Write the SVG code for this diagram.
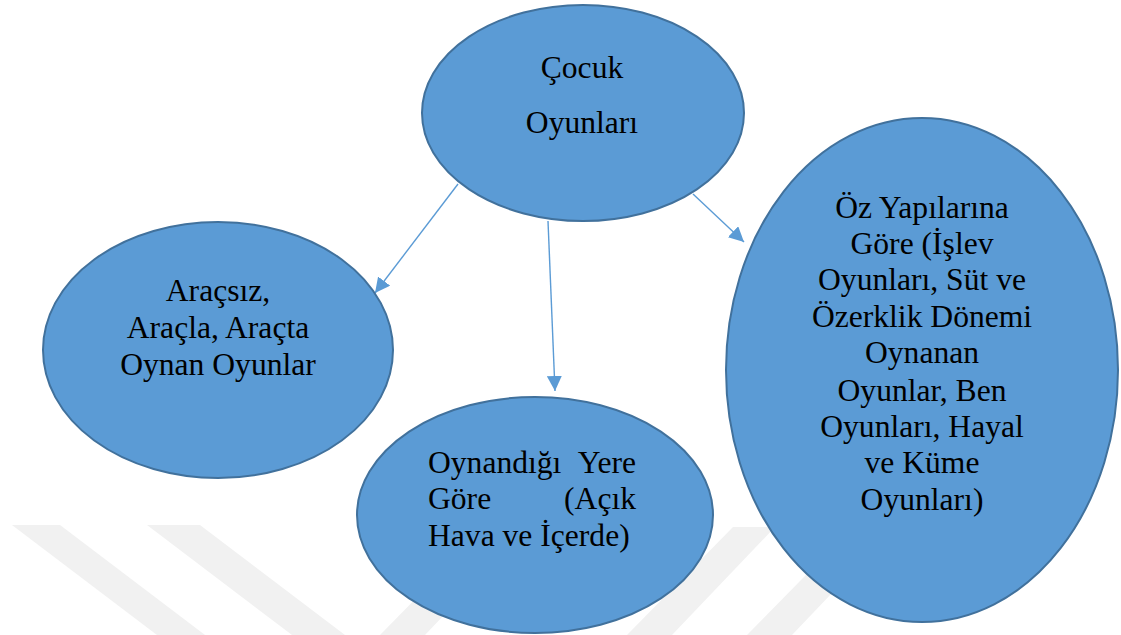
<svg xmlns="http://www.w3.org/2000/svg" width="1121" height="635" viewBox="0 0 1121 635">
<defs>
<style>
.node{fill:#5B9BD5;stroke:#41719C;stroke-width:2}
text{font-family:'Liberation Serif','Times New Roman',serif;font-size:31.6px;fill:#000}
.c{text-anchor:middle}
.e{text-anchor:end}
.wm{fill:#F1F1F1}
.conn{stroke:#5B9BD5;stroke-width:1.4;fill:none;marker-end:url(#ah)}
</style>
<marker id="ah" viewBox="0 0 15 15" refX="15" refY="7.5" markerWidth="15" markerHeight="15" markerUnits="userSpaceOnUse" orient="auto">
<path d="M0,0 L15,7.5 L0,15 Z" fill="#5B9BD5"/>
</marker>
</defs>
<rect width="1121" height="635" fill="#fff"/>
<g id="watermark">
<polygon class="wm" points="12,525 60,525 205,635 157,635"/>
<polygon class="wm" points="147,525 200,525 345,635 292,635"/>
<polygon class="wm" points="380,635 425,635 528,527 486,527"/>
<polygon class="wm" points="627,635 672,635 775,527 733,527"/>
<polygon class="wm" points="747,635 792,635 895,527 853,527"/>
</g>
<g id="connectors">
<line class="conn" x1="458" y1="184" x2="375" y2="293"/>
<line class="conn" x1="548" y1="221" x2="555" y2="391"/>
<line class="conn" x1="693" y1="194" x2="744" y2="242"/>
</g>
<g id="node-root" font-family="Liberation Serif, serif">
<ellipse class="node" cx="583" cy="113" rx="161" ry="108"/>
<text class="c" x="582" y="78">Çocuk</text>
<text class="c" x="582" y="133">Oyunları</text>
</g>
<g id="node-aracsiz" font-family="Liberation Serif, serif">
<ellipse class="node" cx="218" cy="350" rx="175" ry="128"/>
<text class="c" x="218" y="301">Araçsız,</text>
<text class="c" x="218" y="338">Araçla, Araçta</text>
<text class="c" x="218" y="375">Oynan Oyunlar</text>
</g>
<g id="node-yer" font-family="Liberation Serif, serif">
<ellipse class="node" cx="535" cy="515" rx="178" ry="118"/>
<text x="428" y="473">Oynandığı</text>
<text class="e" x="636" y="473">Yere</text>
<text x="428" y="509">Göre</text>
<text class="e" x="636" y="509">(Açık</text>
<text x="428" y="546">Hava ve İçerde)</text>
</g>
<g id="node-ozyapi" font-family="Liberation Serif, serif">
<ellipse class="node" cx="922" cy="370" rx="196" ry="252"/>
<text class="c" x="922" y="218">Öz Yapılarına</text>
<text class="c" x="922" y="254">Göre (İşlev</text>
<text class="c" x="922" y="290">Oyunları, Süt ve</text>
<text class="c" x="922" y="327">Özerklik Dönemi</text>
<text class="c" x="922" y="363">Oynanan</text>
<text class="c" x="922" y="401">Oyunlar, Ben</text>
<text class="c" x="922" y="437">Oyunları, Hayal</text>
<text class="c" x="922" y="473">ve Küme</text>
<text class="c" x="922" y="510">Oyunları)</text>
</g>
</svg>
